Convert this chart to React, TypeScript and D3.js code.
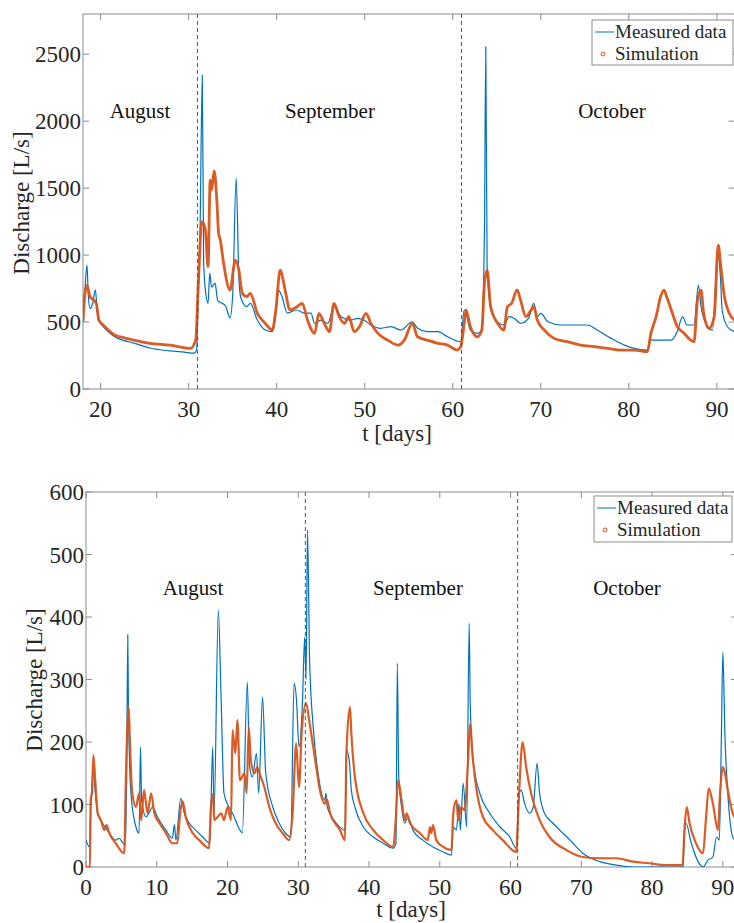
import React from "react";
import * as d3 from "d3";

// ---------- Data ----------
// Top panel: measured discharge
const topMeasT = [18.0, 18.2, 18.45, 18.6, 18.8, 19.1, 19.4, 19.6, 19.8, 20.3, 21.0, 21.6, 22.5, 23.75, 25.6, 27.9, 29.5, 30.6, 30.9, 31.1, 31.3, 31.55, 31.7, 31.9, 32.2, 32.4, 32.6, 33.0, 33.3, 33.8, 34.2, 34.7, 35.0, 35.4, 35.7, 35.9, 36.6, 37.0, 37.8, 38.7, 39.5, 39.9, 40.2, 40.6, 41.2, 42.3, 43.1, 43.9, 44.3, 45.0, 45.8, 46.5, 47.3, 48.4, 49.2, 49.9, 50.7, 51.8, 53.0, 54.1, 55.4, 56.0, 57.1, 58.3, 59.4, 60.9, 61.3, 61.5, 62.0, 62.8, 63.3, 63.6, 63.75, 63.9, 64.3, 64.9, 65.8, 66.4, 67.0, 67.7, 68.6, 69.2, 69.6, 70.0, 70.8, 72.3, 73.8, 75.3, 76.4, 78.0, 79.5, 80.6, 82.1, 82.5, 83.6, 84.8, 85.5, 86.1, 86.6, 87.4, 87.9, 88.2, 88.75, 89.5, 90.1, 90.4, 90.6, 91.2, 92.0];
const topMeasQ = [540, 720, 925, 700, 600, 640, 740, 600, 515, 465, 420, 390, 365, 343, 306, 284, 275, 268, 290, 716, 1200, 2343, 962, 740, 640, 865, 760, 790, 660, 640, 620, 530, 700, 1573, 838, 689, 614, 640, 515, 440, 428, 560, 739, 690, 567, 590, 567, 567, 490, 515, 490, 614, 540, 515, 527, 515, 478, 453, 465, 440, 502, 453, 428, 428, 390, 353, 590, 567, 440, 415, 440, 1200, 2555, 913, 614, 515, 478, 540, 527, 490, 527, 640, 540, 565, 502, 478, 478, 478, 440, 378, 328, 303, 291, 365, 365, 365, 428, 540, 478, 478, 776, 614, 490, 440, 1013, 838, 590, 465, 428];

// Top panel: simulation
const topSimT = [18.0, 18.2, 18.45, 18.8, 19.2, 19.5, 19.8, 20.3, 21.6, 22.5, 23.75, 25.6, 27.9, 30.2, 30.8, 31.1, 31.5, 31.9, 32.2, 32.45, 32.6, 32.9, 33.2, 33.4, 33.6, 33.97, 34.7, 35.3, 35.7, 36.1, 36.6, 37.0, 37.8, 38.7, 39.5, 39.9, 40.4, 40.95, 41.5, 42.3, 42.9, 43.5, 44.3, 44.8, 45.4, 46.0, 46.5, 47.1, 47.7, 48.2, 48.8, 49.4, 50.15, 50.7, 51.5, 52.6, 53.8, 54.5, 55.4, 56.0, 57.1, 58.3, 59.4, 60.5, 60.9, 61.3, 61.5, 62.0, 62.8, 63.3, 63.6, 63.9, 64.3, 65.1, 65.8, 66.2, 66.7, 67.3, 67.7, 68.3, 68.9, 69.2, 69.6, 70.4, 71.5, 73.0, 74.5, 76.1, 77.6, 79.1, 80.6, 82.1, 82.5, 83.1, 83.6, 84.0, 84.3, 84.95, 85.5, 86.3, 86.8, 87.4, 87.8, 88.2, 88.5, 89.1, 89.7, 90.15, 90.45, 90.8, 91.4, 92.0];
const topSimQ = [500, 700, 776, 689, 665, 640, 515, 478, 403, 385, 365, 341, 328, 303, 365, 790, 1249, 1187, 913, 1560, 1485, 1629, 1410, 1162, 1112, 938, 739, 962, 888, 714, 690, 714, 565, 490, 440, 590, 888, 740, 590, 614, 640, 515, 415, 565, 490, 428, 640, 540, 490, 540, 428, 465, 565, 490, 415, 365, 328, 365, 490, 390, 365, 341, 328, 291, 316, 490, 590, 465, 390, 440, 790, 888, 614, 490, 440, 614, 640, 740, 665, 540, 590, 614, 515, 440, 378, 353, 328, 316, 303, 291, 291, 278, 415, 540, 689, 739, 689, 565, 465, 415, 378, 353, 665, 739, 565, 453, 540, 1075, 913, 714, 565, 515];

// Bottom panel: measured discharge
const botMeasT = [0, 0.5, 0.7, 1.04, 1.3, 1.65, 2.35, 3.3, 4.2, 4.7, 5.0, 5.55, 5.75, 5.9, 6.0, 6.35, 7.06, 7.5, 7.7, 7.86, 8.5, 8.9, 9.4, 10.1, 11.3, 12.2, 12.5, 12.7, 13.4, 13.9, 14.6, 15.5, 16.5, 17.5, 17.9, 18.1, 18.7, 19.1, 19.5, 20.2, 20.7, 22.1, 22.8, 23.1, 23.5, 24.1, 24.4, 24.95, 25.4, 26.4, 27.3, 28.2, 28.95, 29.4, 29.75, 30.1, 30.6, 30.9, 31.1, 31.3, 31.6, 32.1, 32.8, 33.75, 33.9, 34.1, 35.4, 36.6, 36.8, 37.2, 37.5, 38.0, 39.2, 40.6, 42.0, 43.4, 43.8, 44.0, 44.2, 44.6, 45.05, 45.5, 46.2, 47.6, 49.05, 50.5, 51.65, 51.9, 52.35, 52.7, 52.9, 53.3, 53.8, 54.15, 54.3, 54.7, 55.65, 57.06, 58.5, 59.9, 60.8, 61.2, 61.5, 62.0, 62.7, 63.2, 63.75, 64.1, 64.8, 66.0, 66.95, 68.4, 70.2, 72.6, 74.95, 77.3, 82.0, 84.4, 84.5, 84.8, 85.5, 86.4, 87.2, 87.9, 88.6, 89.1, 89.5, 89.8, 90.0, 90.3, 90.7, 91.4, 92.0];
const botMeasQ = [43, 32, 102, 155, 120, 86, 70, 54, 43, 46, 42, 35, 150, 372, 251, 118, 64, 54, 192, 107, 80, 86, 96, 80, 59, 46, 68, 43, 110, 86, 70, 59, 48, 38, 192, 86, 411, 267, 118, 96, 86, 55, 296, 163, 144, 182, 118, 272, 150, 96, 70, 54, 48, 294, 267, 192, 267, 368, 300, 539, 331, 225, 150, 107, 118, 96, 70, 59, 187, 171, 123, 96, 64, 48, 38, 30, 38, 326, 144, 96, 70, 80, 59, 43, 32, 24, 19, 64, 59, 101, 59, 134, 64, 390, 262, 171, 118, 86, 64, 48, 30, 118, 123, 101, 86, 96, 166, 118, 86, 70, 59, 43, 22, 8.5, 3, 0, 0, 0, 35, 70, 40, 11, 0, 11, 16, 48, 43, 214, 344, 208, 118, 48, 40];

// Bottom panel: simulation
const botSimT = [0, 0.56, 0.66, 0.85, 1.04, 1.3, 1.65, 2.1, 2.6, 2.9, 3.3, 4.2, 5.4, 5.65, 6.03, 6.2, 6.5, 7.06, 7.5, 7.8, 8.2, 8.7, 9.2, 9.65, 10.4, 11.3, 12.2, 12.9, 13.3, 13.65, 14.1, 15.1, 16.0, 17.4, 17.65, 18.0, 18.1, 18.6, 19.1, 19.5, 20.0, 20.5, 20.7, 21.1, 21.4, 21.75, 22.4, 22.7, 23.0, 23.3, 23.8, 24.2, 24.7, 25.2, 25.9, 26.8, 27.8, 28.7, 29.2, 29.7, 30.1, 30.5, 31.1, 31.6, 32.6, 33.05, 33.75, 34.0, 34.5, 35.9, 36.6, 36.8, 37.3, 37.5, 38.0, 39.2, 40.6, 42.0, 43.4, 43.8, 44.1, 44.6, 45.05, 45.3, 45.8, 47.2, 48.3, 48.6, 48.8, 49.05, 49.5, 50.5, 51.65, 51.9, 52.35, 52.6, 53.0, 53.5, 54.0, 54.3, 54.6, 55.2, 56.1, 57.5, 58.9, 60.8, 61.2, 61.7, 62.2, 62.9, 64.1, 65.5, 67.9, 70.2, 72.6, 74.95, 77.3, 79.6, 82.0, 84.3, 84.6, 84.9, 85.3, 86.2, 87.2, 87.6, 88.0, 88.6, 89.3, 89.6, 90.0, 90.3, 90.7, 91.4, 92.0];
const botSimQ = [0, 0, 107, 118, 179, 139, 86, 75, 59, 67, 54, 38, 22, 150, 256, 203, 123, 96, 118, 75, 123, 86, 118, 86, 70, 54, 38, 38, 86, 105, 80, 54, 43, 30, 96, 118, 75, 80, 86, 75, 96, 75, 219, 182, 235, 139, 150, 118, 224, 171, 150, 160, 144, 128, 96, 70, 54, 43, 86, 198, 128, 219, 262, 230, 155, 123, 101, 109, 86, 59, 43, 182, 256, 214, 144, 86, 59, 43, 32, 80, 139, 107, 75, 86, 70, 54, 43, 64, 54, 67, 43, 32, 27, 86, 107, 75, 96, 91, 171, 230, 182, 123, 80, 59, 43, 24, 118, 200, 160, 118, 75, 48, 27, 16, 14, 14, 8.5, 6, 3, 3, 64, 96, 70, 38, 22, 75, 126, 101, 59, 118, 160, 150, 123, 86, 75];

// Axis ticks and labels
const topXTicks = [20, 30, 40, 50, 60, 70, 80, 90];
const topYTicks = [0, 500, 1000, 1500, 2000, 2500];
const botXTicks = [0, 10, 20, 30, 40, 50, 60, 70, 80, 90];
const botYTicks = [0, 100, 200, 300, 400, 500, 600];
const monthNames = ["August", "September", "October"];
const monthBoundaries = [31, 61];
const seriesNames = ["Measured data", "Simulation"];

const BLUE = "#0072BD";
const ORANGE = "#D95319";
const FONT = "'Liberation Serif', 'Times New Roman', serif";
const AXIS = "#8c8c8c";
const TXT = "#262626";

type PanelProps = {
  id: string;
  x0: number; x1: number; y0: number; y1: number;
  xDomain: [number, number];
  yDomain: [number, number];
  xTicks: number[]; yTicks: number[];
  measT: number[]; measQ: number[]; simT: number[]; simQ: number[];
  monthX: number[]; monthY: number;
  ylabelX: number; ylabelY: number;
  xlabelX: number; xlabelY: number;
  simWidth: number;
  legend: { x: number; y: number; w: number; h: number };
};

function Panel(p: PanelProps) {
  const xs = d3.scaleLinear().domain(p.xDomain).range([p.x0, p.x1]);
  const ys = d3.scaleLinear().domain(p.yDomain).range([p.y1, p.y0]);
  const line = d3
    .line<[number, number]>()
    .x((d) => xs(d[0]))
    .y((d) => ys(d[1]))
    .curve(d3.curveMonotoneX);
  const meas = p.measT.map((t, i) => [t, p.measQ[i]] as [number, number]);
  const sim = p.simT.map((t, i) => [t, p.simQ[i]] as [number, number]);
  const tl = 6;
  return (
    <g>
      <defs>
        <clipPath id={p.id + "clip"}>
          <rect x={p.x0} y={p.y0} width={p.x1 - p.x0} height={p.y1 - p.y0} />
        </clipPath>
      </defs>
      <rect x={p.x0} y={p.y0} width={p.x1 - p.x0} height={p.y1 - p.y0} fill="#fff" stroke={AXIS} strokeWidth={1} />
      {p.xTicks.map((t) => (
        <g key={"xt" + t}>
          <line x1={xs(t)} x2={xs(t)} y1={p.y1} y2={p.y1 - tl} stroke={AXIS} />
          <line x1={xs(t)} x2={xs(t)} y1={p.y0} y2={p.y0 + tl} stroke={AXIS} />
          <text x={xs(t)} y={p.y1 + 28} textAnchor="middle" fontSize={23} fontFamily={FONT} fill={TXT}>
            {t}
          </text>
        </g>
      ))}
      {p.yTicks.map((v) => (
        <g key={"yt" + v}>
          <line x1={p.x0} x2={p.x0 + tl} y1={ys(v)} y2={ys(v)} stroke={AXIS} />
          <line x1={p.x1} x2={p.x1 - tl} y1={ys(v)} y2={ys(v)} stroke={AXIS} />
          <text x={p.x0 - 2} y={ys(v)} dy="0.35em" textAnchor="end" fontSize={23} fontFamily={FONT} fill={TXT}>
            {v}
          </text>
        </g>
      ))}
      <g clipPath={`url(#${p.id}clip)`}>
        <path d={line(meas) || ""} fill="none" stroke={BLUE} strokeWidth={1.2} strokeLinejoin="round" />
        <path d={line(sim) || ""} fill="none" stroke={ORANGE} strokeWidth={p.simWidth} strokeLinejoin="round" strokeOpacity={0.95} />
      </g>
      {monthBoundaries.map((b) => (
        <line key={"mb" + b} x1={xs(b)} x2={xs(b)} y1={p.y0} y2={p.y1} stroke="#555" strokeWidth={1} strokeDasharray="4,3" />
      ))}
      {monthNames.map((m, i) => (
        <text key={m} x={p.monthX[i]} y={p.monthY} textAnchor="middle" fontSize={21} fontFamily={FONT} fill="#111">
          {m}
        </text>
      ))}
      <text
        transform={`translate(${p.ylabelX},${p.ylabelY}) rotate(-90)`}
        textAnchor="middle"
        fontSize={23}
        fontFamily={FONT}
        fill={TXT}
      >
        Discharge [L/s]
      </text>
      <text x={p.xlabelX} y={p.xlabelY} textAnchor="middle" fontSize={23} fontFamily={FONT} fill={TXT}>
        t [days]
      </text>
      <g>
        <rect x={p.legend.x} y={p.legend.y} width={p.legend.w} height={p.legend.h} fill="#fff" stroke={AXIS} />
        <line x1={p.legend.x + 3} x2={p.legend.x + 22} y1={p.legend.y + 12} y2={p.legend.y + 12} stroke={BLUE} strokeWidth={1} />
        <circle cx={p.legend.x + 11} cy={p.legend.y + 34} r={2} fill="none" stroke={ORANGE} strokeWidth={1} />
        <text x={p.legend.x + 23} y={p.legend.y + 18} fontSize={19} fontFamily={FONT} fill={TXT}>
          {seriesNames[0]}
        </text>
        <text x={p.legend.x + 23} y={p.legend.y + 40} fontSize={19} fontFamily={FONT} fill={TXT}>
          {seriesNames[1]}
        </text>
      </g>
    </g>
  );
}

export default function App() {
  return (
    <svg width={734} height={923} style={{ position: "absolute", left: 0, top: 0, background: "#fff" }}>
      <rect x={0} y={0} width={734} height={923} fill="#fff" />
      <Panel
        id="top"
        x0={83} x1={734.5} y0={14} y1={389}
        xDomain={[18, 92]} yDomain={[0, 2800]}
        xTicks={topXTicks} yTicks={topYTicks}
        measT={topMeasT} measQ={topMeasQ} simT={topSimT} simQ={topSimQ}
        monthX={[140, 330, 612]} monthY={118}
        ylabelX={29} ylabelY={203}
        xlabelX={397} xlabelY={441}
        simWidth={2.8}
        legend={{ x: 592, y: 20, w: 141, h: 45 }}
      />
      <Panel
        id="bot"
        x0={86} x1={737} y0={492} y1={867}
        xDomain={[0, 92]} yDomain={[0, 600]}
        xTicks={botXTicks} yTicks={botYTicks}
        measT={botMeasT} measQ={botMeasQ} simT={botSimT} simQ={botSimQ}
        monthX={[193, 418, 627]} monthY={595}
        ylabelX={42} ylabelY={680}
        xlabelX={411} xlabelY={917}
        simWidth={2.2}
        legend={{ x: 594, y: 496, w: 138, h: 46 }}
      />
    </svg>
  );
}
